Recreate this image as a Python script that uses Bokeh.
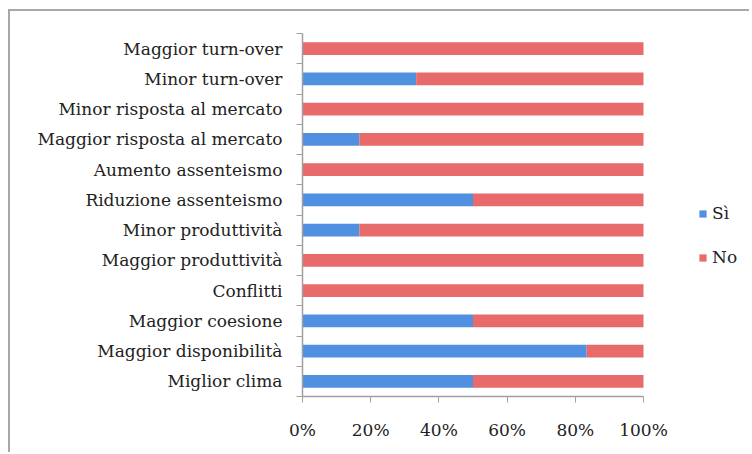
from bokeh.plotting import figure
from bokeh.models import FixedTicker, Legend, LegendItem, ColumnDataSource, NumeralTickFormatter
from bokeh.embed import file_html
from bokeh.resources import INLINE

categories = ["Miglior clima", "Maggior disponibilità", "Maggior coesione", "Conflitti",
              "Maggior produttività", "Minor produttività", "Riduzione assenteismo",
              "Aumento assenteismo", "Maggior risposta al mercato", "Minor risposta al mercato",
              "Minor turn-over", "Maggior turn-over"]
si = [0.5, 0.8333, 0.5, 0.0, 0.0, 0.1667, 0.5, 0.0, 0.1667, 0.0, 0.3333, 0.0]
no = [1 - v for v in si]
x_ticks = [0, 0.2, 0.4, 0.6, 0.8, 1.0]

BLUE = "#5090E0"
RED = "#E86A6A"
FONT = "DejaVu Serif"

n = len(categories)
ypos = [i + 0.5 for i in range(n)]
src = ColumnDataSource(dict(y=ypos, si=si, no=no, total=[s + o for s, o in zip(si, no)]))

# layout geometry (pixels)
W, H = 741, 443
LEFT, RIGHT, TOP, BOTTOM = 292, 5, 22, 58
UNIT_PX = 341.0  # pixels for 100%
x_end = (W - LEFT - RIGHT) / UNIT_PX

p = figure(width=W, height=H, output_backend="svg", toolbar_location=None,
           x_range=(0, x_end), y_range=(0, n),
           min_border_left=LEFT, min_border_right=RIGHT, min_border_top=TOP, min_border_bottom=BOTTOM)

r1 = p.hbar(y="y", left=0, right="si", height=0.42, source=src, fill_color=BLUE, line_color=None)
r2 = p.hbar(y="y", left="si", right="total", height=0.42, source=src, fill_color=RED, line_color=None)

p.xgrid.visible = False
p.ygrid.visible = False
p.outline_line_color = None

# x axis
p.xaxis.ticker = FixedTicker(ticks=x_ticks)
p.xaxis.bounds = (0, 1)
p.xaxis.formatter = NumeralTickFormatter(format="0%")
p.xaxis.major_label_text_font = FONT
p.xaxis.major_label_text_font_size = "17px"
p.xaxis.major_label_text_color = "#222222"
p.xaxis.axis_line_color = "#a0a0a0"
p.xaxis.axis_line_width = 1.5
p.xaxis.major_tick_line_color = "#a0a0a0"
p.xaxis.major_tick_in = 0
p.xaxis.major_tick_out = 6
p.xaxis.minor_tick_line_color = None
p.xaxis.major_label_standoff = 17

# y axis
p.yaxis.ticker = FixedTicker(ticks=ypos, minor_ticks=list(range(n + 1)))
p.yaxis.major_label_overrides = {y: c for y, c in zip(ypos, categories)}
p.yaxis.major_label_text_font = FONT
p.yaxis.major_label_text_font_size = "17px"
p.yaxis.major_label_text_color = "#222222"
p.yaxis.axis_line_color = "#a0a0a0"
p.yaxis.axis_line_width = 1.5
p.yaxis.major_tick_line_color = None
p.yaxis.minor_tick_line_color = "#a0a0a0"
p.yaxis.minor_tick_in = 0
p.yaxis.minor_tick_out = 6
p.yaxis.major_label_standoff = 14

legend = Legend(items=[LegendItem(label="Sì", renderers=[r1]), LegendItem(label="No", renderers=[r2])],
                location=(396, 129), orientation="vertical",
                background_fill_alpha=0, border_line_color=None,
                glyph_width=9, glyph_height=9, spacing=24, padding=0, margin=0,
                label_text_font=FONT, label_text_font_size="17px", label_text_color="#222222",
                label_standoff=5)
p.add_layout(legend, "center")

p.styles = {"margin-left": "8px", "margin-top": "9px",
            "border-top": "2px solid #a8a8a8", "border-left": "2px solid #a8a8a8"}

open("out.html", "w").write(file_html(p, INLINE))
